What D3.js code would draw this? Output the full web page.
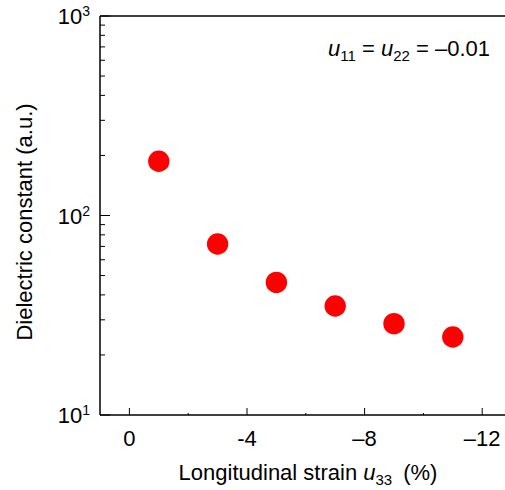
<!DOCTYPE html>
<head>
  <meta charset="utf-8">
  <script src="https://d3js.org/d3.v7.min.js"></script>
  <style>
    body { margin:0; background:#fff; }
    text { font-family: "Liberation Sans", Arial, sans-serif; fill:#000; }
  </style>
</head>
<body>
  <script>
    var width = 505,
        height = 490;

    // strain u33 (%) and dielectric constant (a.u.)
    var strain = [-1, -3, -5, -7, -9, -11];
    var dielectric = [187, 72, 46.2, 35.2, 28.7, 24.6];
    var xTicks = [0, -4, -8, -12];
    var xTickLabels = ["0", "-4", "\u20138", "\u201312"];
    var xMinor = [-2, -6, -10];
    var yTicks = [10, 100, 1000];
    var yExp = ["1", "2", "3"];

    var svg = d3.select("body").append("svg")
      .attr("width", width)
      .attr("height", height);

    var plotLeft = 100, plotTop = 16, plotBottom = 415;

    var x = d3.scaleLinear().domain([1, -13]).range([plotLeft, plotLeft + 14 * 29.4]);
    var y = d3.scaleLog().domain([10, 1000]).range([plotBottom, plotTop]);

    // frame lines: left, bottom, top
    svg.append("line").attr("x1", plotLeft).attr("x2", plotLeft).attr("y1", plotTop).attr("y2", plotBottom)
      .attr("stroke", "#000").attr("stroke-width", 1.5);
    svg.append("line").attr("x1", plotLeft).attr("x2", width).attr("y1", plotBottom).attr("y2", plotBottom)
      .attr("stroke", "#000").attr("stroke-width", 1.5);
    svg.append("line").attr("x1", plotLeft).attr("x2", width).attr("y1", plotTop).attr("y2", plotTop)
      .attr("stroke", "#000").attr("stroke-width", 1.5);

    // y ticks (inside)
    var yMinor = [];
    [10, 100].forEach(function(d) {
      for (var k = 2; k <= 9; k++) yMinor.push(d * k);
    });
    svg.selectAll(".ymin").data(yMinor).enter().append("line")
      .attr("x1", plotLeft).attr("x2", plotLeft + 5)
      .attr("y1", function(d) { return y(d); }).attr("y2", function(d) { return y(d); })
      .attr("stroke", "#000").attr("stroke-width", 1);
    svg.selectAll(".ymaj").data(yTicks).enter().append("line")
      .attr("x1", plotLeft).attr("x2", plotLeft + 10)
      .attr("y1", function(d) { return y(d); }).attr("y2", function(d) { return y(d); })
      .attr("stroke", "#000").attr("stroke-width", 1);

    var yl = svg.selectAll(".ylab").data(yTicks).enter().append("text")
      .attr("x", plotLeft - 10)
      .attr("y", function(d) { return y(d) + 8; })
      .attr("text-anchor", "end")
      .style("font-size", "22px");
    yl.append("tspan").text("10");
    yl.append("tspan").attr("dy", -8).style("font-size", "14px")
      .text(function(d, i) { return yExp[i]; });

    // x ticks (inside)
    svg.selectAll(".xmaj").data(xTicks).enter().append("line")
      .attr("x1", function(d) { return x(d); }).attr("x2", function(d) { return x(d); })
      .attr("y1", plotBottom).attr("y2", plotBottom - 7)
      .attr("stroke", "#000").attr("stroke-width", 1);
    svg.selectAll(".xmin").data(xMinor).enter().append("line")
      .attr("x1", function(d) { return x(d); }).attr("x2", function(d) { return x(d); })
      .attr("y1", plotBottom).attr("y2", plotBottom - 2)
      .attr("stroke", "#000").attr("stroke-width", 1);
    svg.selectAll(".xlab").data(xTicks).enter().append("text")
      .attr("x", function(d) { return x(d); })
      .attr("y", plotBottom + 31)
      .attr("text-anchor", "middle")
      .style("font-size", "22px")
      .text(function(d, i) { return xTickLabels[i]; });

    // points
    svg.selectAll("circle").data(strain).enter().append("circle")
      .attr("cx", function(d) { return x(d); })
      .attr("cy", function(d, i) { return y(dielectric[i]); })
      .attr("r", 10.7)
      .attr("fill", "#ff0000");

    // axis titles
    var xt = svg.append("text")
      .attr("x", 308).attr("y", 480)
      .attr("text-anchor", "middle")
      .style("font-size", "22px");
    xt.append("tspan").text("Longitudinal strain ");
    xt.append("tspan").style("font-style", "italic").text("u");
    xt.append("tspan").attr("dy", 5).style("font-size", "15px").text("33");
    xt.append("tspan").attr("dy", -5).text("\u2002(%)");

    svg.append("text")
      .attr("transform", "translate(32,222) rotate(-90)")
      .attr("text-anchor", "middle")
      .style("font-size", "22px")
      .text("Dielectric constant (a.u.)");

    // annotation
    var an = svg.append("text")
      .attr("x", 490).attr("y", 56)
      .attr("text-anchor", "end")
      .style("font-size", "22px");
    an.append("tspan").style("font-style", "italic").text("u");
    an.append("tspan").attr("dy", 5).style("font-size", "15px").text("11");
    an.append("tspan").attr("dy", -5).text(" = ");
    an.append("tspan").style("font-style", "italic").text("u");
    an.append("tspan").attr("dy", 5).style("font-size", "15px").text("22");
    an.append("tspan").attr("dy", -5).text(" = \u20130.01");
  </script>
</body>
